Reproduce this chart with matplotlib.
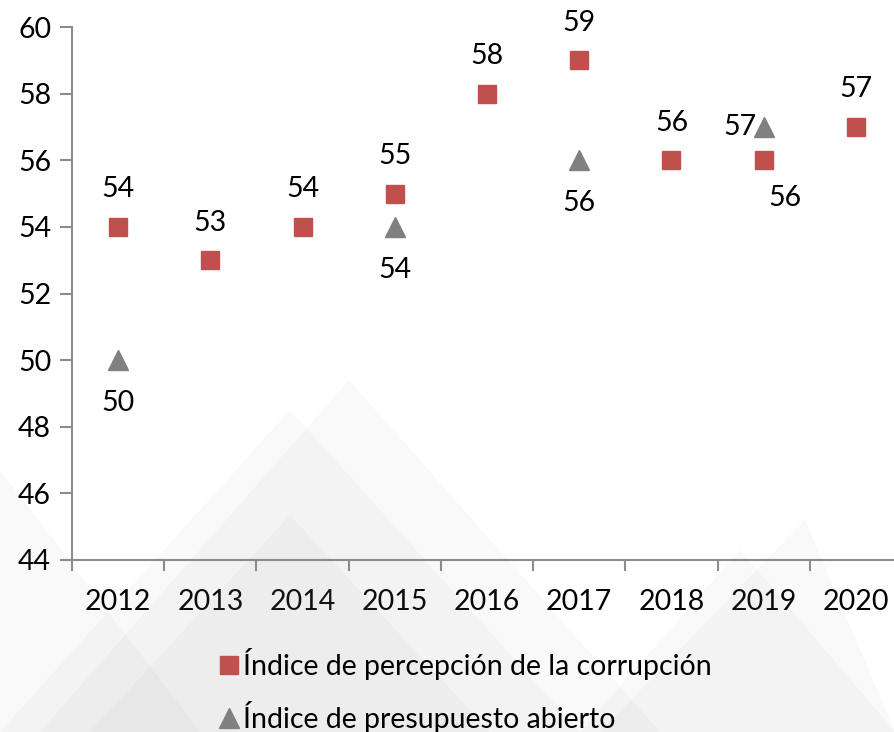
import matplotlib.pyplot as plt
from matplotlib.patches import Polygon

years = ['2012', '2013', '2014', '2015', '2016', '2017', '2018', '2019', '2020']
corrupcion = [54, 53, 54, 55, 58, 59, 56, 56, 57]
presup_idx = [0, 3, 5, 7]
presupuesto = [50, 54, 56, 57]

plt.rcParams['font.family'] = ['Lato', 'DejaVu Sans']
FS = 20.5

fig = plt.figure(figsize=(8.95, 7.32), dpi=100)

# faint watermark triangles in the background (figure coords, pixels / size)
W, H = 895.0, 732.0
tris = [
    [(349, 380), (40, 732), (660, 732)],
    [(290, 410), (0, 732), (580, 732)],
    [(290, 515), (90, 732), (490, 732)],
    [(805, 520), (600, 732), (895, 732)],
    [(740, 550), (580, 732), (895, 732)],
    [(0, 470), (0, 732), (200, 732)],
]
for t in tris:
    pts = [(x / W, 1 - y / H) for x, y in t]
    fig.patches.append(Polygon(pts, closed=True, transform=fig.transFigure,
                               facecolor='#8a8a8a', alpha=0.05, edgecolor='none', zorder=0))

ax = fig.add_axes([72 / W, 1 - 560 / H, 830 / W, 533 / H])
ax.patch.set_alpha(0)

x = list(range(len(years)))
ax.plot(x, corrupcion, 's', color='#C0504D', markersize=13.5, linestyle='none',
        label='Índice de percepción de la corrupción', zorder=3)
ax.plot(presup_idx, presupuesto, '^', color='#808080', markersize=14, linestyle='none',
        label='Índice de presupuesto abierto', zorder=3)

# data labels
for i, v in zip(x, corrupcion):
    if years[i] == '2019':
        ax.annotate(str(v), (i, v), xytext=(15, -27), textcoords='offset points',
                    ha='center', va='center', fontsize=FS)
    else:
        ax.annotate(str(v), (i, v), xytext=(0, 27), textcoords='offset points',
                    ha='center', va='center', fontsize=FS)
for i, v in zip(presup_idx, presupuesto):
    if years[i] == '2019':
        ax.annotate(str(v), (i, v), xytext=(-5, 0), textcoords='offset points',
                    ha='right', va='center', fontsize=FS)
    else:
        ax.annotate(str(v), (i, v), xytext=(0, -31), textcoords='offset points',
                    ha='center', va='center', fontsize=FS)

ax.set_xlim(-0.5, 8.5)
ax.set_ylim(44, 60)
ax.set_yticks(range(44, 61, 2))
ax.set_xticks(x)
ax.set_xticklabels(years)
ax.set_xticks([i - 0.5 for i in range(9)], minor=True)
ax.tick_params(axis='x', which='major', length=0, pad=21, labelsize=FS)
ax.tick_params(axis='x', which='minor', length=8, width=1.5, color='#8c8c8c', direction='out')
ax.tick_params(axis='y', length=9, width=1.5, color='#8c8c8c', labelsize=FS, pad=6)

for s in ['top', 'right']:
    ax.spines[s].set_visible(False)
for s in ['left', 'bottom']:
    ax.spines[s].set_color('#8c8c8c')
    ax.spines[s].set_linewidth(1.5)

fig.legend(loc='upper center', bbox_to_anchor=(464 / W, 1 - 622 / H), frameon=False,
           fontsize=FS, handletextpad=0.05, labelspacing=0.75, handlelength=0.9,
           markerscale=1.0)

fig.savefig('out.png', dpi=100)
